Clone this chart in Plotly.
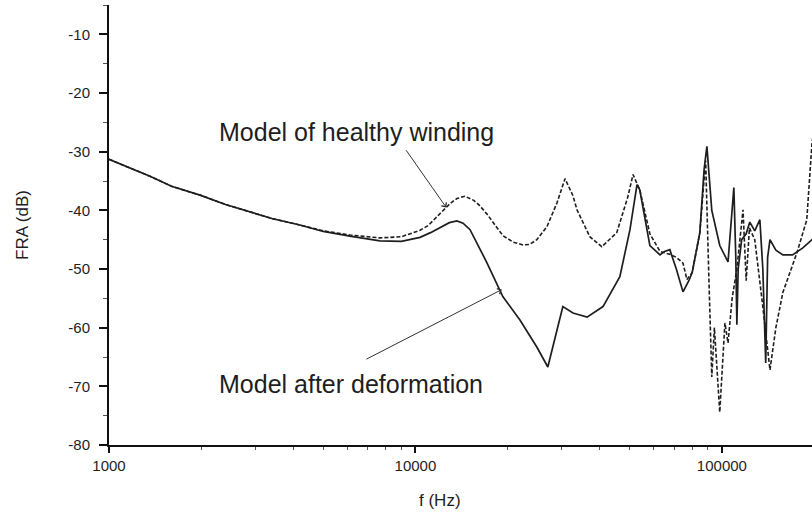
import numpy as np
import plotly.graph_objects as go

# ---- data ----
healthy_f = [1000, 1180, 1361, 1600, 1982, 2400, 2884, 3400, 4198, 5000,
             6109, 7656, 9000, 10350, 11000, 12000, 12470, 13000, 13650, 14490,
             15500, 16200, 17100, 18200, 19280, 20800, 22440, 23600, 24890, 26850,
             28970, 30760, 32660, 33650, 37070, 40550, 45390, 49320, 51290, 53950,
             58210, 62810, 67610, 71000, 74650, 76910, 80000, 84720, 87500, 88500,
             90500, 92680, 94500, 98400, 102300, 104700, 108000, 111900, 117200, 120000,
             123000, 128000, 135000, 143500, 150000, 158100, 175800, 183700, 189200, 193000,
             196800, 200000]
healthy_db = [-31.3, -32.8, -34.2, -35.9, -37.4, -39.0, -40.2, -41.4, -42.5, -43.5,
              -44.2, -44.7, -44.5, -43.4, -42.6, -40.6, -39.6, -38.8, -38.0, -37.6,
              -38.3, -39.2, -40.6, -42.6, -44.3, -45.4, -45.9, -45.8, -45.0, -42.8,
              -38.7, -34.6, -37.5, -39.9, -44.5, -46.2, -43.8, -37.7, -33.9, -36.5,
              -44.0, -47.0, -47.5, -48.0, -49.0, -51.8, -50.6, -43.8, -34.0, -31.5,
              -50.0, -68.4, -60.0, -74.4, -59.2, -62.6, -55.0, -50.0, -39.9, -52.0,
              -43.0, -45.0, -55.0, -67.2, -60.0, -54.0, -47.2, -44.0, -41.6, -35.0,
              -28.5, -26.0]

deformed_f = [1000, 1180, 1361, 1600, 1982, 2400, 2884, 3400, 4198, 5000,
              6109, 7656, 9000, 10350, 11200, 12020, 12900, 13650, 14300, 15070,
              17100, 19280, 21930, 24890, 27040, 28970, 30270, 32660, 36310, 40930,
              46450, 50120, 52840, 53950, 58210, 62810, 65000, 67610, 71000, 74650,
              78000, 80000, 84720, 87500, 89330, 92680, 98400, 104700, 109400, 111000,
              111900, 113000, 116000, 120000, 123300, 128000, 133000, 136000, 139000, 141000,
              143500, 150000, 158100, 170000, 183700, 196800, 200000]
deformed_db = [-31.3, -32.8, -34.2, -35.9, -37.4, -39.0, -40.2, -41.4, -42.5, -43.6,
               -44.4, -45.2, -45.3, -44.6, -43.8, -42.9, -42.1, -41.8, -42.2, -43.3,
               -48.9, -54.7, -58.7, -63.3, -66.7, -60.4, -56.4, -57.5, -58.2, -56.4,
               -51.3, -43.3, -35.6, -36.5, -46.0, -47.6, -47.0, -46.7, -50.0, -53.9,
               -52.0, -50.6, -43.8, -33.0, -29.1, -40.0, -46.0, -48.8, -36.1, -48.0,
               -59.5, -50.0, -45.0, -44.0, -42.0, -43.5, -41.6, -50.0, -66.0, -48.0,
               -45.0, -46.8, -47.6, -47.6, -46.4, -45.0, -44.8]

x_major = [1000, 10000, 100000]
x_major_labels = ["1000", "10000", "100000"]
x_minor = [m * d for d in (1000, 10000, 100000) for m in range(2, 10)]
y_major = [-80, -70, -60, -50, -40, -30, -20, -10]
y_major_labels = ["-80", "-70", "-60", "-50", "-40", "-30", "-20", "-10"]

label_healthy = "Model of healthy winding"
label_deformed = "Model after deformation"

FONT = "Liberation Sans, Arial, sans-serif"
INK = "#1e1e1e"

fig = go.Figure()
fig.add_trace(go.Scatter(x=deformed_f, y=deformed_db, mode="lines",
                         line=dict(color=INK, width=1.7), showlegend=False))
fig.add_trace(go.Scatter(x=healthy_f, y=healthy_db, mode="lines",
                         line=dict(color=INK, width=1.6, dash="4px,2px"), showlegend=False))

# annotations (log axis -> positions in log10 units)
fig.add_annotation(x=np.log10(6400), y=-26.7, xref="x", yref="y", text=label_healthy,
                   showarrow=False, font=dict(family=FONT, size=25, color=INK))
fig.add_annotation(x=np.log10(6170), y=-69.6, xref="x", yref="y", text=label_deformed,
                   showarrow=False, font=dict(family=FONT, size=25, color=INK))
fig.add_annotation(x=np.log10(12600), y=-39.5, ax=np.log10(9250), ay=-29.5,
                   xref="x", yref="y", axref="x", ayref="y", text="",
                   showarrow=True, arrowhead=4, arrowsize=1.2, arrowwidth=1, arrowcolor="#333")
fig.add_annotation(x=np.log10(19140), y=-53.5, ax=np.log10(6840), ay=-65.5,
                   xref="x", yref="y", axref="x", ayref="y", text="",
                   showarrow=True, arrowhead=4, arrowsize=1.2, arrowwidth=1, arrowcolor="#333")

# axis titles
fig.add_annotation(x=np.log10(12000), y=0, xref="x", yref="paper", yshift=-55,
                   xanchor="center", yanchor="middle", text="f (Hz)",
                   showarrow=False, font=dict(family=FONT, size=17, color=INK))
fig.add_annotation(x=0, y=-42.5, xref="paper", yref="y", xshift=-87,
                   xanchor="center", yanchor="middle", text="FRA (dB)",
                   textangle=-90, showarrow=False, font=dict(family=FONT, size=17, color=INK))

fig.update_xaxes(type="log", range=[3, 5.294], showgrid=False, zeroline=False,
                 showline=True, linecolor="#111", linewidth=2,
                 tickvals=x_major, ticktext=x_major_labels, ticks="outside",
                 ticklen=6, tickwidth=1.5, tickcolor="#111",
                 minor=dict(tickvals=x_minor, ticks="outside", ticklen=3, tickwidth=1, tickcolor="#555"),
                 tickfont=dict(family=FONT, size=15, color=INK))
fig.update_yaxes(range=[-80, -5], showgrid=False, zeroline=False,
                 showline=True, linecolor="#111", linewidth=2,
                 tickvals=y_major, ticktext=y_major_labels, ticks="outside",
                 ticklen=8, tickwidth=1.5, tickcolor="#111", ticklabelstandoff=6,
                 minor=dict(dtick=5, tick0=-80, ticks="outside", ticklen=4, tickwidth=1, tickcolor="#555"),
                 tickfont=dict(family=FONT, size=15, color=INK))

fig.update_layout(width=812, height=514, margin=dict(l=109, r=0, t=5, b=69),
                  paper_bgcolor="white", plot_bgcolor="white", showlegend=False)

fig.write_html("out.html")
